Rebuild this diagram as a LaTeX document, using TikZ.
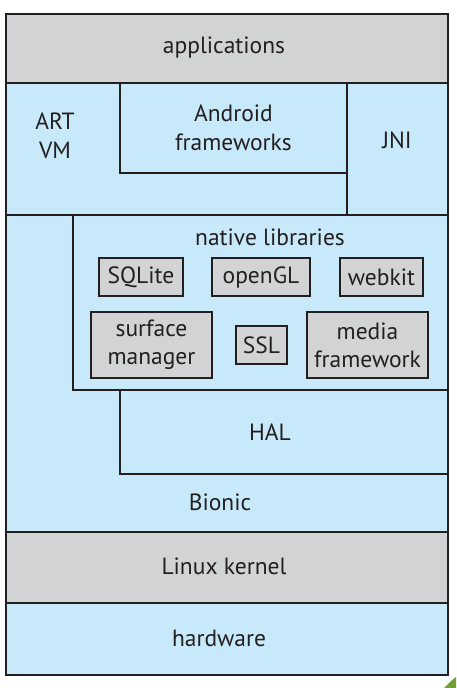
\documentclass[tikz,border=0pt]{standalone}
\usepackage{fontspec}
\setmainfont{PT Sans}
\usetikzlibrary{positioning}
\definecolor{layerblue}{RGB}{199,233,249}
\definecolor{layergray}{RGB}{209,211,212}
\definecolor{inkgray}{RGB}{35,31,32}
\definecolor{leafgreen}{RGB}{112,160,52}

\begin{document}
\begin{tikzpicture}[x=1pt, y=-1pt]
  \tikzset{LayerStyle/.style = {draw           = inkgray,
                                line width     = 1.2pt,
                                anchor         = north west,
                                inner sep      = 0pt,
                                outer sep      = 0pt},
           BlueLayer/.style  = {LayerStyle, fill = layerblue},
           GrayLayer/.style  = {LayerStyle, fill = layergray},
           LibStyle/.style   = {draw           = inkgray,
                                fill           = layergray,
                                line width     = 1.2pt,
                                inner sep      = 0pt,
                                text           = inkgray,
                                align          = center,
                                font           = \fontsize{23.5}{28}\selectfont},
           TextStyle/.style  = {text = inkgray, align = center,
                                font = \fontsize{23.5}{28.5}\selectfont}}
  \useasboundingbox (0,0) rectangle (456,688);
  %%% LAYERS %%%
  \node[GrayLayer, minimum width=442pt, minimum height=69pt](apps) at (6,14){};
  \node[BlueLayer, minimum width=341pt, minimum height=132pt](artvm) at (6,83){};
  \node[BlueLayer, minimum width=101pt, minimum height=132pt](jni) at (347,83){};
  \node[BlueLayer, minimum width=227pt, minimum height=90pt](fwk) at (120,83){};
  \node[BlueLayer, minimum width=442pt, minimum height=317pt](bionic) at (6,215){};
  \node[BlueLayer, minimum width=375pt, minimum height=175pt](natlib) at (73,215){};
  \node[BlueLayer, minimum width=328pt, minimum height=84pt](hal) at (120,390){};
  \node[GrayLayer, minimum width=442pt, minimum height=71pt](kernel) at (6,532){};
  \node[BlueLayer, minimum width=442pt, minimum height=72pt](hw) at (6,603){};
  \draw[inkgray, line width=1.5pt](apps.north west) rectangle (hw.south east);
  %%% LABELS %%%
  \node[TextStyle](appslabel) at (224,48){applications};
  \node[TextStyle](artlabel) at (55,136){ART\\VM};
  \node[TextStyle](fwklabel) at (fwk.center){Android\\frameworks};
  \node[TextStyle](jnilabel) at (397,140){JNI};
  \node[TextStyle](natlabel) at (270,237){native libraries};
  \node[TextStyle](hallabel) at (270,432){HAL};
  \node[TextStyle](bionlabel) at (220,502){Bionic};
  \node[TextStyle](kernlabel) at (224,566){Linux kernel};
  \node[TextStyle](hwlabel) at (219,638){hardware};
  %%% NATIVE LIBRARIES %%%
  \node[LibStyle, minimum width=84pt, minimum height=38pt](sqlite) at (141,277){SQLite};
  \node[LibStyle, minimum width=98pt, minimum height=38pt](opengl) at (261,277){openGL};
  \node[LibStyle, minimum width=83pt, minimum height=38pt](webkit) at (381.5,277){webkit};
  \node[LibStyle, minimum width=121pt, minimum height=66pt](surface) at (151.5,345){surface\\manager};
  \node[LibStyle, minimum width=51pt, minimum height=38pt](ssl) at (261.5,345){SSL};
  \node[LibStyle, minimum width=121pt, minimum height=66pt](media) at (367.5,345){media\\framework};
  %% corner leaf %%
  \fill[leafgreen](444,688) -- (451,681) -- (456,677) -- (456,688) -- cycle;
\end{tikzpicture}
\end{document}
